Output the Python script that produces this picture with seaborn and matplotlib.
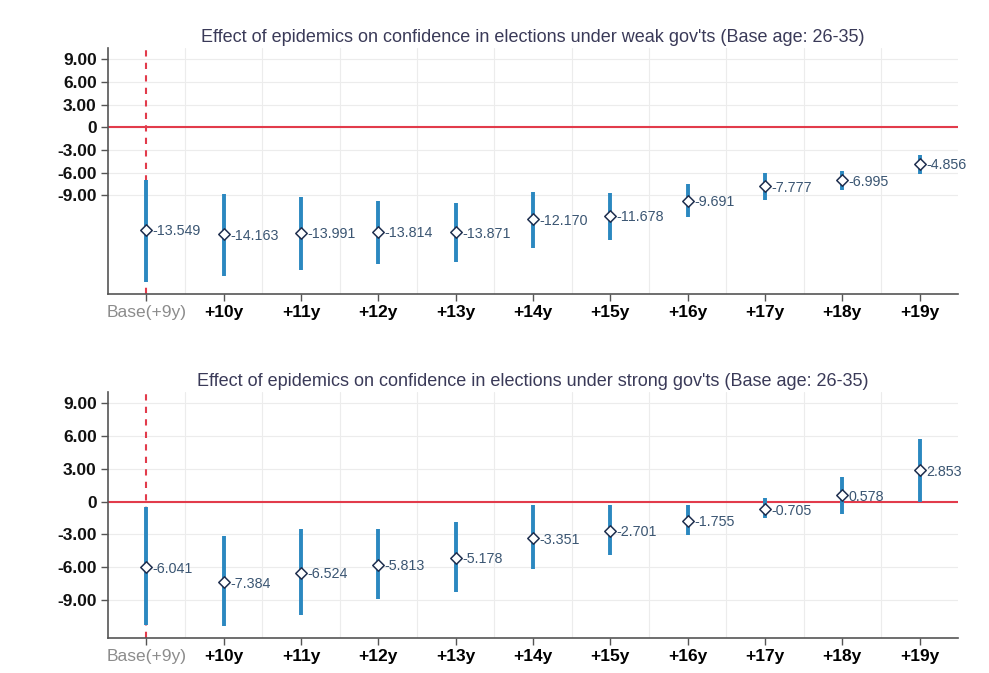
import numpy as np
import pandas as pd
import matplotlib
matplotlib.use("Agg")
import matplotlib.pyplot as plt
import seaborn as sns

categories = ["Base(+9y)", "+10y", "+11y", "+12y", "+13y", "+14y", "+15y", "+16y", "+17y", "+18y", "+19y"]

weak_est = [-13.549, -14.163, -13.991, -13.814, -13.871, -12.170, -11.678, -9.691, -7.777, -6.995, -4.856]
weak_lo = [-20.45, -19.7, -18.9, -18.15, -17.8, -15.95, -14.93, -11.92, -9.63, -8.3, -6.19]
weak_hi = [-6.98, -8.83, -9.19, -9.76, -10.07, -8.53, -8.66, -7.51, -6.09, -5.79, -3.67]

strong_est = [-6.041, -7.384, -6.524, -5.813, -5.178, -3.351, -2.701, -1.755, -0.705, 0.578, 2.853]
strong_lo = [-11.28, -11.43, -10.37, -8.93, -8.29, -6.19, -4.94, -3.05, -1.52, -1.13, 0.0]
strong_hi = [-0.46, -3.14, -2.5, -2.5, -1.89, -0.36, -0.36, -0.36, 0.31, 2.23, 5.74]

ytick_vals = [9, 6, 3, 0, -3, -6, -9]
ytick_labels = ["9.00", "6.00", "3.00", "0", "-3.00", "-6.00", "-9.00"]

titles = [
    "Effect of epidemics on confidence in elections under weak gov'ts (Base age: 26-35)",
    "Effect of epidemics on confidence in elections under strong gov'ts (Base age: 26-35)",
]

sns.set_theme(style="white")
plt.rcParams["font.family"] = ["Liberation Sans", "DejaVu Sans"]

CI_COLOR = "#2b88c0"
RED = "#e23b4b"
EDGE = "#1f2f4f"
LABEL_COLOR = "#3a5572"
TITLE_COLOR = "#3a3a58"
GRID = "#ececec"
SPINE = "#555555"

fig = plt.figure(figsize=(9.89, 6.73), dpi=100)
ax_top = fig.add_axes([0.109, 0.563, 0.860, 0.365])
ax_bot = fig.add_axes([0.109, 0.052, 0.860, 0.366])

panels = [
    (ax_top, weak_est, weak_lo, weak_hi, (-22.08, 10.46), titles[0], 5.0),
    (ax_bot, strong_est, strong_lo, strong_hi, (-12.5, 10.06), titles[1], 3.8),
]

for ax, est, lo, hi, ylim, title, tpad in panels:
    df = pd.DataFrame({"cat": categories, "x": np.arange(len(categories)),
                       "est": est, "lo": lo, "hi": hi})
    ax.set_xlim(-0.5, len(categories) - 0.5)
    ax.set_ylim(*ylim)
    # grid
    for yv in ytick_vals:
        ax.axhline(yv, color=GRID, lw=0.8, zorder=0)
    for xv in np.arange(len(categories) - 1) + 0.5:
        ax.axvline(xv, color=GRID, lw=0.8, zorder=0)
    # reference lines
    ax.axhline(0, color=RED, lw=1.5, zorder=1)
    ax.axvline(0, color=RED, lw=1.5, ls=(0, (3, 3)), zorder=1)
    # CIs
    ax.vlines(df["x"], df["lo"], df["hi"], color=CI_COLOR, lw=2.8, zorder=2)
    # points
    sns.scatterplot(data=df, x="x", y="est", marker="D", s=34, color="white",
                    edgecolor=EDGE, linewidth=1.1, zorder=3, ax=ax, legend=False)
    for _, r in df.iterrows():
        ax.annotate(f"{r['est']:.3f}", (r["x"], r["est"]), xytext=(4.5, -1),
                    textcoords="offset points", ha="left", va="center",
                    fontsize=10.3, color=LABEL_COLOR, zorder=4)
    ax.set_xticks(df["x"])
    ax.set_xticklabels(categories, fontsize=12.5)
    for i, t in enumerate(ax.get_xticklabels()):
        if i == 0:
            t.set_color("#8c8c8c")
        else:
            t.set_color("black")
            t.set_fontweight("bold")
    ax.set_yticks(ytick_vals)
    ax.set_yticklabels(ytick_labels, fontsize=12.5, fontweight="bold", color="#111111")
    ax.tick_params(axis="both", direction="out", length=5, width=1, color=SPINE,
                   bottom=True, left=True, pad=3)
    ax.xaxis.get_major_ticks()[0].tick1line.set_color(RED)
    ax.set_xlabel("")
    ax.set_ylabel("")
    for side in ["top", "right"]:
        ax.spines[side].set_visible(False)
    for side in ["left", "bottom"]:
        ax.spines[side].set_color(SPINE)
        ax.spines[side].set_linewidth(1.2)
    ax.set_title(title, fontsize=13, color=TITLE_COLOR, pad=tpad)

fig.savefig("out.png", dpi=100, facecolor="white")
